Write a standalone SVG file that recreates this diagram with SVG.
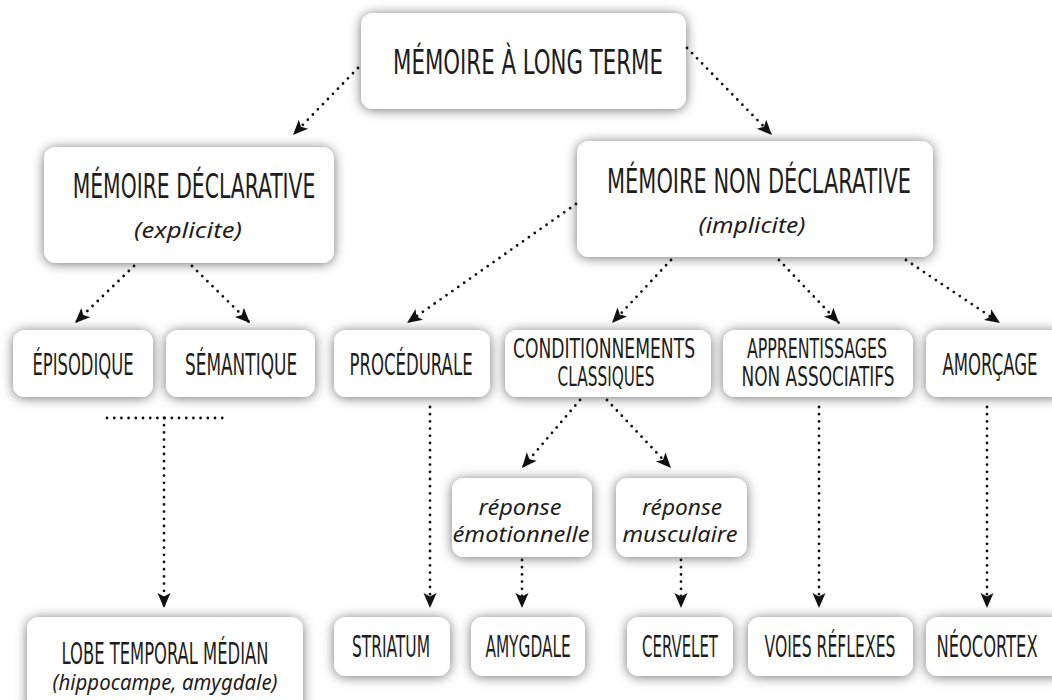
<svg xmlns="http://www.w3.org/2000/svg" width="1052" height="700" viewBox="0 0 1052 700">
<defs>
<filter id="sh" x="-20%" y="-40%" width="140%" height="180%">
<feDropShadow dx="0" dy="1" stdDeviation="6" flood-color="#000" flood-opacity="0.55"/>
</filter>
<marker id="ah" markerUnits="userSpaceOnUse" markerWidth="20" markerHeight="16" refX="15" refY="0" viewBox="-1 -8 18 16" orient="auto">
<path d="M0,-6.5 L15,0 L0,6.5 L3.5,0 Z" fill="#111"/>
</marker>
<style>
.box{fill:#fff;filter:url(#sh)}
.t{font-family:"Liberation Sans Narrow","DejaVu Sans Condensed","Liberation Sans",sans-serif;font-stretch:condensed;font-size:33px;fill:#1e1e1e;text-anchor:middle}
.s{font-family:"Liberation Sans Narrow","DejaVu Sans Condensed","Liberation Sans",sans-serif;font-stretch:condensed;font-size:30px;fill:#1e1e1e;text-anchor:middle}
.i{font-family:"Noto Sans","Open Sans",sans-serif;font-style:italic;font-size:22px;fill:#1e1e1e;text-anchor:middle}
.c{fill:none;stroke:#111;stroke-width:2.8;stroke-linecap:round;stroke-dasharray:0 7.2}
.a{marker-end:url(#ah)}
</style>
</defs>
<rect width="1052" height="700" fill="#fff"/>

<g id="n-long-terme"><rect class="box" x="361" y="13" width="325" height="96" rx="12"/>
<text class="t" transform="translate(528,74) scale(0.68,1)" x="0" y="0" style="font-size:34px" textLength="397" lengthAdjust="spacingAndGlyphs">MÉMOIRE À LONG TERME</text></g>

<g id="n-declarative"><rect class="box" x="44" y="147" width="290" height="116" rx="12"/>
<text class="t" transform="translate(194,198) scale(0.68,1)" x="0" y="0" textLength="357" lengthAdjust="spacingAndGlyphs">MÉMOIRE DÉCLARATIVE</text>
<text class="i" x="188" y="238" textLength="108" lengthAdjust="spacingAndGlyphs">(explicite)</text></g>

<g id="n-non-declarative"><rect class="box" x="577" y="141" width="356" height="116" rx="12"/>
<text class="t" transform="translate(759,193) scale(0.68,1)" x="0" y="0" textLength="447" lengthAdjust="spacingAndGlyphs">MÉMOIRE NON DÉCLARATIVE</text>
<text class="i" x="752" y="233" textLength="107" lengthAdjust="spacingAndGlyphs">(implicite)</text></g>

<g id="n-episodique"><rect class="box" x="13" y="330" width="140" height="67" rx="12"/>
<text class="s" transform="translate(83,375) scale(0.55,1)" x="0" y="0" textLength="184" lengthAdjust="spacingAndGlyphs">ÉPISODIQUE</text></g>

<g id="n-semantique"><rect class="box" x="166" y="330" width="149" height="67" rx="12"/>
<text class="s" transform="translate(241,375) scale(0.55,1)" x="0" y="0" textLength="204" lengthAdjust="spacingAndGlyphs">SÉMANTIQUE</text></g>

<g id="n-procedurale"><rect class="box" x="334" y="330" width="156" height="67" rx="12"/>
<text class="s" transform="translate(411,375) scale(0.55,1)" x="0" y="0" textLength="224" lengthAdjust="spacingAndGlyphs">PROCÉDURALE</text></g>

<g id="n-conditionnements"><rect class="box" x="505" y="330" width="206" height="67" rx="12"/>
<text class="s" transform="translate(604,358) scale(0.55,1)" x="0" y="0" style="font-size:27px" textLength="331" lengthAdjust="spacingAndGlyphs">CONDITIONNEMENTS</text>
<text class="s" transform="translate(606,386) scale(0.55,1)" x="0" y="0" style="font-size:27px" textLength="176" lengthAdjust="spacingAndGlyphs">CLASSIQUES</text></g>

<g id="n-apprentissages"><rect class="box" x="723" y="330" width="190" height="67" rx="12"/>
<text class="s" transform="translate(817,358) scale(0.55,1)" x="0" y="0" style="font-size:27px" textLength="255" lengthAdjust="spacingAndGlyphs">APPRENTISSAGES</text>
<text class="s" transform="translate(818,386) scale(0.55,1)" x="0" y="0" style="font-size:27px" textLength="278" lengthAdjust="spacingAndGlyphs">NON ASSOCIATIFS</text></g>

<g id="n-amorcage"><rect class="box" x="926" y="330" width="140" height="67" rx="12"/>
<text class="s" transform="translate(990,375) scale(0.55,1)" x="0" y="0" textLength="173" lengthAdjust="spacingAndGlyphs">AMORÇAGE</text></g>

<g id="n-rep-emo"><rect class="box" x="452" y="478" width="140" height="79" rx="12"/>
<text class="i" x="520" y="515" textLength="83" lengthAdjust="spacingAndGlyphs">réponse</text>
<text class="i" x="521" y="542" textLength="137" lengthAdjust="spacingAndGlyphs">émotionnelle</text></g>

<g id="n-rep-musc"><rect class="box" x="616" y="478" width="131" height="79" rx="12"/>
<text class="i" x="682" y="515" textLength="80" lengthAdjust="spacingAndGlyphs">réponse</text>
<text class="i" x="680" y="542" textLength="115" lengthAdjust="spacingAndGlyphs">musculaire</text></g>

<g id="n-lobe"><rect class="box" x="27" y="617" width="276" height="100" rx="12"/>
<text class="s" transform="translate(165,664) scale(0.55,1)" x="0" y="0" textLength="376" lengthAdjust="spacingAndGlyphs">LOBE TEMPORAL MÉDIAN</text>
<text class="i" x="165" y="690" style="font-size:21px" textLength="225" lengthAdjust="spacingAndGlyphs">(hippocampe, amygdale)</text></g>

<g id="n-striatum"><rect class="box" x="334" y="617" width="116" height="59" rx="12"/>
<text class="s" transform="translate(391,657) scale(0.55,1)" x="0" y="0" textLength="142" lengthAdjust="spacingAndGlyphs">STRIATUM</text></g>

<g id="n-amygdale"><rect class="box" x="471" y="617" width="114" height="59" rx="12"/>
<text class="s" transform="translate(528,657) scale(0.55,1)" x="0" y="0" textLength="155" lengthAdjust="spacingAndGlyphs">AMYGDALE</text></g>

<g id="n-cervelet"><rect class="box" x="627" y="617" width="106" height="59" rx="12"/>
<text class="s" transform="translate(680,657) scale(0.55,1)" x="0" y="0" textLength="138" lengthAdjust="spacingAndGlyphs">CERVELET</text></g>

<g id="n-voies"><rect class="box" x="748" y="617" width="165" height="59" rx="12"/>
<text class="s" transform="translate(830,657) scale(0.55,1)" x="0" y="0" textLength="238" lengthAdjust="spacingAndGlyphs">VOIES RÉFLEXES</text></g>

<g id="n-neocortex"><rect class="box" x="926" y="617" width="140" height="59" rx="12"/>
<text class="s" transform="translate(987,657) scale(0.55,1)" x="0" y="0" textLength="184" lengthAdjust="spacingAndGlyphs">NÉOCORTEX</text></g>

<g id="connectors">
<line class="c a" x1="358" y1="68" x2="293" y2="135"/>
<line class="c a" x1="687" y1="48" x2="772" y2="135"/>
<line class="c a" x1="134" y1="266" x2="75" y2="323"/>
<line class="c a" x1="192" y1="266" x2="250" y2="323"/>
<line class="c a" x1="576" y1="204" x2="407" y2="323"/>
<line class="c a" x1="671" y1="260" x2="612" y2="323"/>
<line class="c a" x1="779" y1="260" x2="839" y2="323"/>
<line class="c a" x1="906" y1="260" x2="1000" y2="323"/>
<line class="c" x1="107" y1="418" x2="224" y2="418"/>
<line class="c a" x1="164" y1="418" x2="164" y2="608"/>
<line class="c a" x1="430" y1="407" x2="430" y2="608"/>
<line class="c a" x1="580" y1="400" x2="522" y2="468"/>
<line class="c a" x1="607" y1="400" x2="671" y2="468"/>
<line class="c a" x1="522" y1="560" x2="522" y2="608"/>
<line class="c a" x1="681" y1="560" x2="681" y2="608"/>
<line class="c a" x1="819" y1="407" x2="819" y2="608"/>
<line class="c a" x1="987" y1="407" x2="987" y2="608"/>
</g>
</svg>
